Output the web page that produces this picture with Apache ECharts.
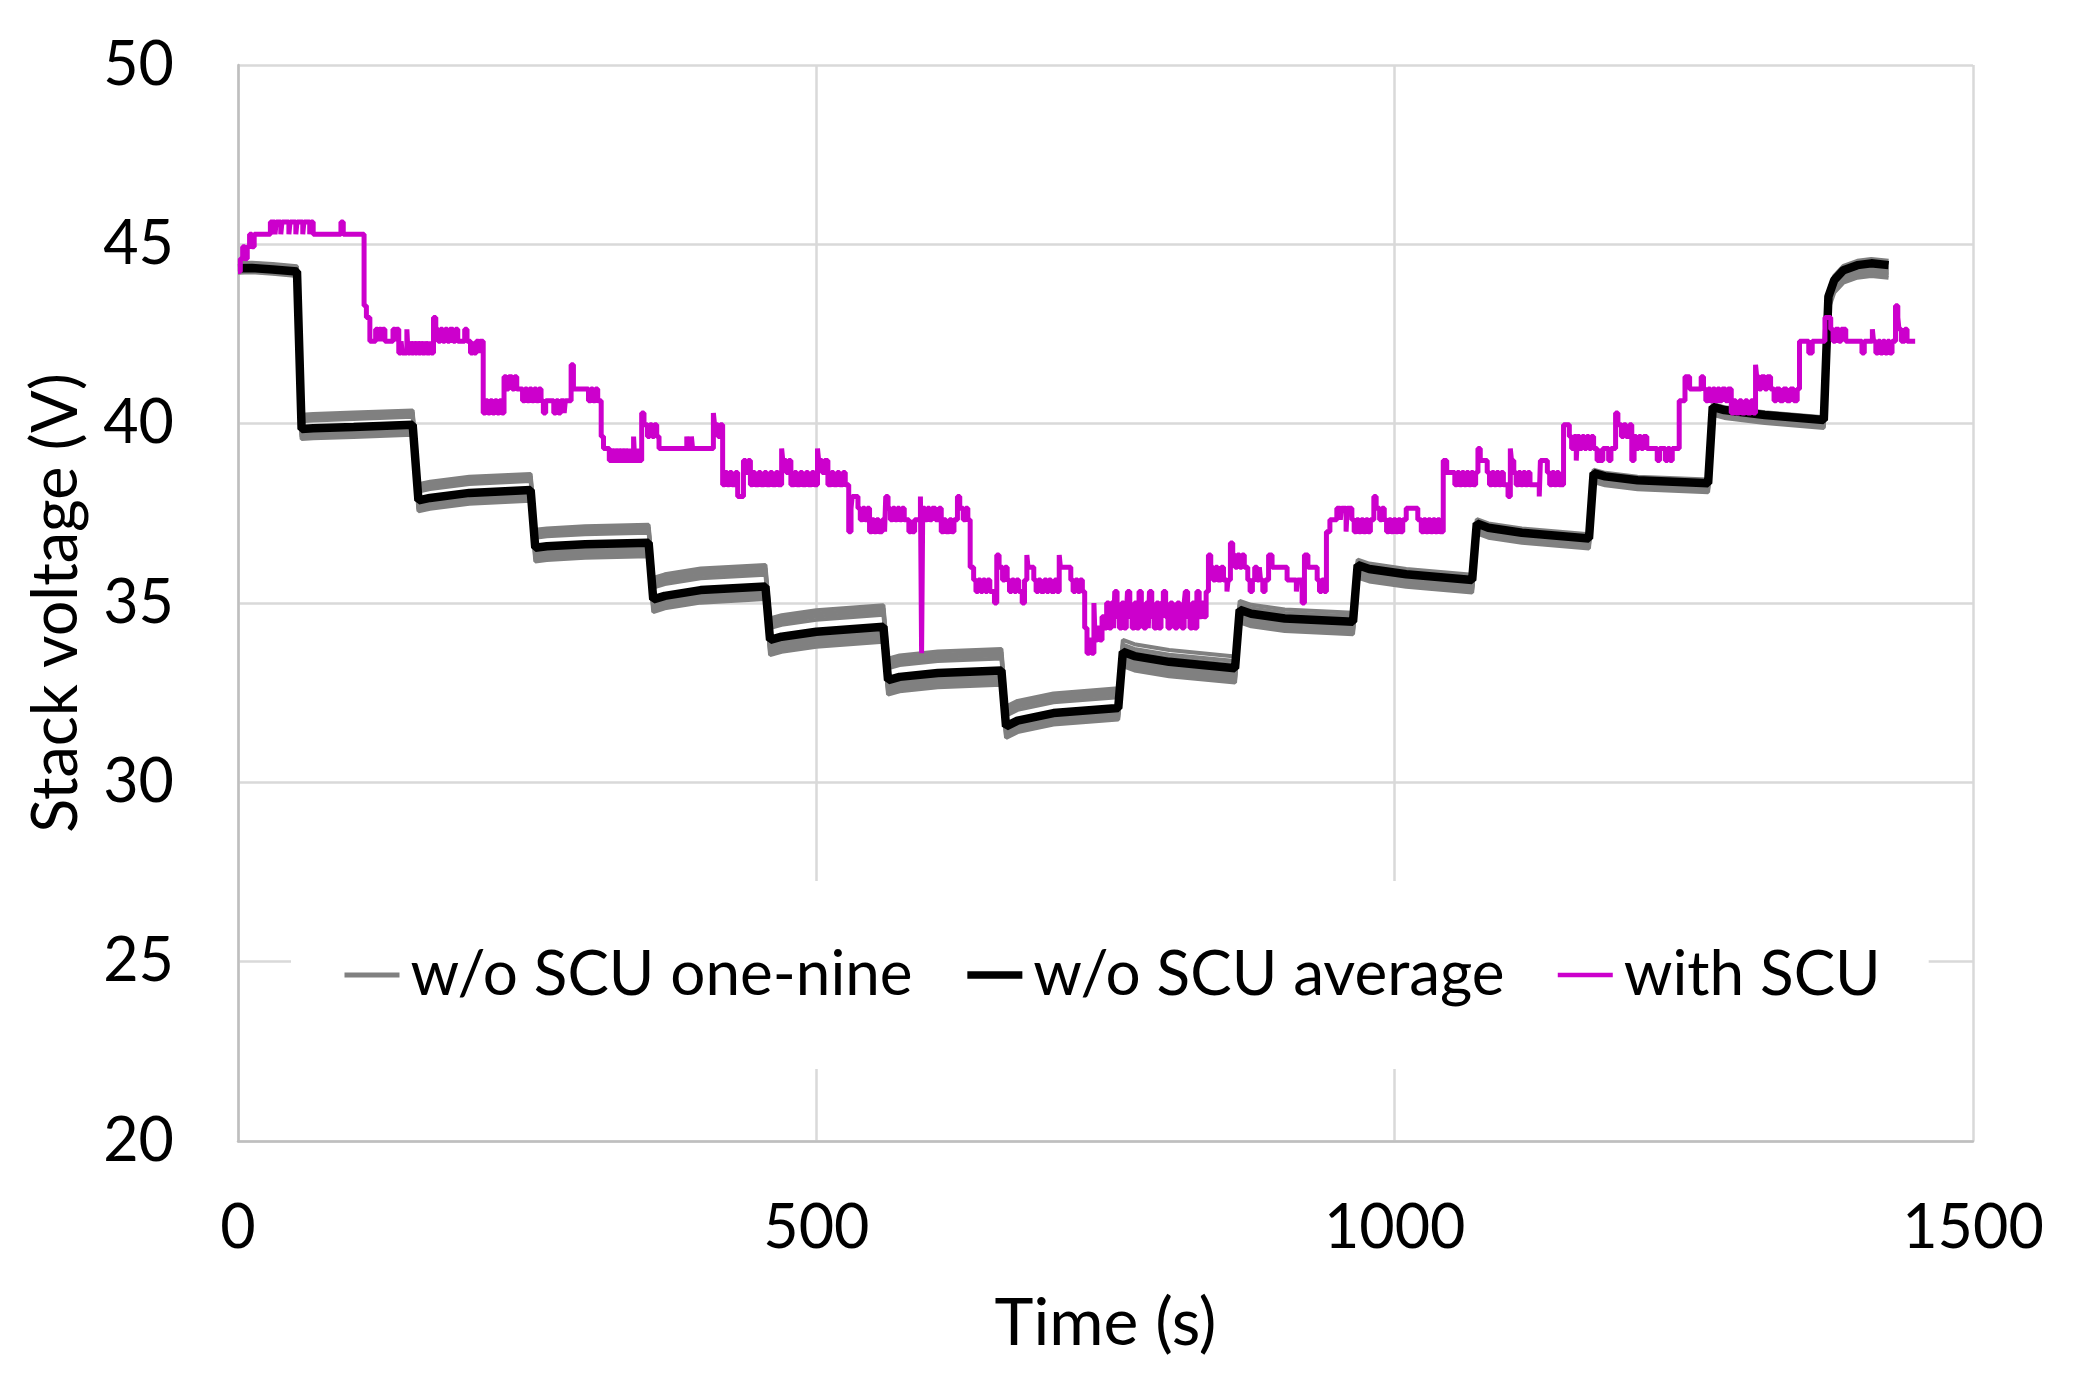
<!DOCTYPE html>
<html><head><meta charset="utf-8">
<script src="https://cdn.jsdelivr.net/npm/echarts@6/dist/echarts.min.js"></script>
<style>html,body{margin:0;padding:0;background:#fff}#c{width:2077px;height:1386px}</style>
</head><body><div id="c"></div>
<script>
// ---- tick layout ----
const xTicks = [0, 500, 1000, 1500];
const yTicks = [20, 25, 30, 35, 40, 45, 50];
const legendNames = ['w/o SCU one-nine', 'w/o SCU average', 'with SCU'];

// ---- time samples for the w/o SCU curves (s) ----
const tAvg = [0,12,30,51, 55,65,100,151, 156,166,200,253, 257,267,300,355, 359,369,400,456, 460,470,500,558, 562,572,605,660, 664,674,705,761, 765,775,805,862, 866,876,905,964, 968,978,1010,1067, 1071,1081,1110,1168, 1172,1182,1210,1271, 1275,1285,1320,1371, 1375,1380,1388,1400,1412,1427];

// ---- w/o SCU average (V) ----
const avgVolt = [44.33,44.34,44.30,44.24, 39.85,39.87,39.91,39.97, 37.86,37.93,38.07,38.15, 36.54,36.58,36.64,36.68, 35.10,35.20,35.36,35.46, 33.97,34.06,34.20,34.34, 32.85,32.94,33.05,33.12, 31.56,31.72,31.93,32.07, 33.64,33.52,33.36,33.18, 34.81,34.70,34.57,34.48, 36.06,35.95,35.80,35.64, 37.22,37.10,36.96,36.80, 38.62,38.53,38.42,38.34, 40.47,40.38,40.24,40.10, 43.54,44.00,44.28,44.42,44.47,44.42];

// ---- w/o SCU runs one..nine (V) ----
const cell1 = [44.48,44.49,44.45,44.39, 40.25,40.27,40.31,40.37, 38.31,38.38,38.52,38.60, 37.04,37.08,37.14,37.18, 35.70,35.80,35.96,36.06, 34.57,34.66,34.80,34.94, 33.45,33.54,33.65,33.72, 32.11,32.27,32.48,32.62, 33.97,33.85,33.69,33.51, 35.06,34.95,34.82,34.73, 36.21,36.10,35.95,35.79, 37.34,37.22,37.08,36.92, 38.72,38.63,38.52,38.44, 40.55,40.46,40.32,40.18, 43.66,44.12,44.40,44.54,44.59,44.54];
const cell2 = [44.46,44.47,44.43,44.37, 40.19,40.21,40.25,40.31, 38.24,38.31,38.45,38.53, 36.97,37.01,37.07,37.11, 35.61,35.71,35.87,35.97, 34.48,34.57,34.71,34.85, 33.36,33.45,33.56,33.63, 32.03,32.19,32.40,32.54, 33.84,33.72,33.56,33.38, 34.96,34.85,34.72,34.63, 36.15,36.04,35.89,35.73, 37.29,37.17,37.03,36.87, 38.68,38.59,38.48,38.40, 40.52,40.43,40.29,40.15, 43.61,44.07,44.35,44.49,44.54,44.49];
const cell3 = [44.44,44.45,44.41,44.35, 40.13,40.15,40.19,40.25, 38.18,38.25,38.39,38.47, 36.89,36.93,36.99,37.03, 35.52,35.62,35.78,35.88, 34.39,34.48,34.62,34.76, 33.27,33.36,33.47,33.54, 31.95,32.11,32.32,32.46, 33.74,33.62,33.46,33.28, 34.89,34.78,34.65,34.56, 36.11,36.00,35.85,35.69, 37.26,37.14,37.00,36.84, 38.65,38.56,38.45,38.37, 40.49,40.40,40.26,40.12, 43.58,44.04,44.32,44.46,44.51,44.46];
const cell4 = [44.41,44.42,44.38,44.32, 40.07,40.09,40.13,40.19, 38.11,38.18,38.32,38.40, 36.82,36.86,36.92,36.96, 35.43,35.53,35.69,35.79, 34.30,34.39,34.53,34.67, 33.18,33.27,33.38,33.45, 31.86,32.02,32.23,32.37, 33.56,33.44,33.28,33.10, 34.74,34.63,34.50,34.41, 35.99,35.88,35.73,35.57, 37.16,37.04,36.90,36.74, 38.57,38.48,38.37,38.29, 40.43,40.34,40.20,40.06, 43.47,43.93,44.21,44.35,44.40,44.35];
const cell5 = [44.31,44.32,44.28,44.22, 39.79,39.81,39.85,39.91, 37.80,37.87,38.01,38.09, 36.46,36.50,36.56,36.60, 35.03,35.13,35.29,35.39, 33.89,33.98,34.12,34.26, 32.77,32.86,32.97,33.04, 31.50,31.66,31.87,32.01, 33.50,33.38,33.22,33.04, 34.69,34.58,34.45,34.36, 35.94,35.83,35.68,35.52, 37.12,37.00,36.86,36.70, 38.53,38.44,38.33,38.25, 40.39,40.30,40.16,40.02, 43.42,43.88,44.16,44.30,44.35,44.30];
const cell6 = [44.28,44.29,44.25,44.19, 39.74,39.76,39.80,39.86, 37.74,37.81,37.95,38.03, 36.39,36.43,36.49,36.53, 34.96,35.06,35.22,35.32, 33.80,33.89,34.03,34.17, 32.69,32.78,32.89,32.96, 31.43,31.59,31.80,31.94, 33.44,33.32,33.16,32.98, 34.63,34.52,34.39,34.30, 35.88,35.77,35.62,35.46, 37.08,36.96,36.82,36.66, 38.49,38.40,38.29,38.21, 40.36,40.27,40.13,39.99, 43.36,43.82,44.10,44.24,44.29,44.24];
const cell7 = [44.26,44.27,44.23,44.17, 39.68,39.70,39.74,39.80, 37.68,37.75,37.89,37.97, 36.31,36.35,36.41,36.45, 34.89,34.99,35.15,35.25, 33.72,33.81,33.95,34.09, 32.61,32.70,32.81,32.88, 31.37,31.53,31.74,31.88, 33.38,33.26,33.10,32.92, 34.58,34.47,34.34,34.25, 35.83,35.72,35.57,35.41, 37.04,36.92,36.78,36.62, 38.46,38.37,38.26,38.18, 40.33,40.24,40.10,39.96, 43.31,43.77,44.05,44.19,44.24,44.19];
const cell8 = [44.23,44.24,44.20,44.14, 39.63,39.65,39.69,39.75, 37.62,37.69,37.83,37.91, 36.24,36.28,36.34,36.38, 34.82,34.92,35.08,35.18, 33.63,33.72,33.86,34.00, 32.53,32.62,32.73,32.80, 31.30,31.46,31.67,31.81, 33.32,33.20,33.04,32.86, 34.53,34.42,34.29,34.20, 35.78,35.67,35.52,35.36, 37.00,36.88,36.74,36.58, 38.42,38.33,38.22,38.14, 40.29,40.20,40.06,39.92, 43.26,43.72,44.00,44.14,44.19,44.14];
const cell9 = [44.21,44.22,44.18,44.12, 39.57,39.59,39.63,39.69, 37.56,37.63,37.77,37.85, 36.16,36.20,36.26,36.30, 34.75,34.85,35.01,35.11, 33.55,33.64,33.78,33.92, 32.45,32.54,32.65,32.72, 31.24,31.40,31.61,31.75, 33.24,33.12,32.96,32.78, 34.46,34.35,34.22,34.13, 35.71,35.60,35.45,35.29, 36.94,36.82,36.68,36.52, 38.37,38.28,38.17,38.09, 40.25,40.16,40.02,39.88, 43.19,43.65,43.93,44.07,44.12,44.07];

// ---- with SCU [time s, voltage V] (held until next sample) ----
const withScu = [
[0,44.24],[2,44.6],[4,44.93],[6,44.6],[8,44.93],[10,45.28],[12,44.93],[14,45.28],
[28,45.62],[32,45.28],[33,45.62],[37,45.28],[38,45.62],[44,45.28],[45,45.62],[50,45.28],[51,45.62],[56,45.28],[57,45.62],[62,45.28],[63,45.62],[65,45.28],
[89,45.62],[91,45.28],
[109,43.29],[111,42.96],[114,42.3],[119,42.63],[121,42.3],[122,42.63],[124,42.3],[125,42.63],[127,42.3],[134,42.63],[136,42.3],[137,42.63],[139,41.97],[141,42.3],[142,41.97],[146,42.63],[147,41.97],[149,42.3],[150,41.97],[152,42.3],[153,41.97],[155,42.3],[156,41.97],[158,42.3],[159,41.97],[162,42.3],[163,41.97],[166,42.3],[167,41.97],[169,42.96],[171,42.63],[173,42.3],[175,42.63],[177,42.3],[179,42.63],[181,42.3],[183,42.63],[186,42.3],[188,42.63],[190,42.3],[196,42.63],[198,42.3],[201,41.97],[203,42.3],[204,41.97],[206,42.3],[208,41.97],[209,42.3],
[212,40.3],[214,40.64],[216,40.3],[218,40.64],[220,40.3],[222,40.64],[224,40.3],[226,40.64],[228,40.3],[230,41.31],[232,40.97],[234,41.31],[237,40.97],[239,41.31],[241,40.97],[246,40.64],[248,40.97],[250,40.64],[252,40.97],[254,40.64],[256,40.97],[258,40.64],[260,40.97],[262,40.64],[264,40.3],[266,40.64],[273,40.3],[275,40.64],[277,40.3],[279,40.64],[282,40.3],[283,40.64],[288,41.64],[290,40.97],[303,40.64],[305,40.97],[307,40.64],[309,40.97],[311,40.64],
[314,39.64],[316,39.31],[321,38.97],[323,39.31],[324,38.97],[326,39.31],[327,38.97],[329,39.31],[330,38.97],[332,39.31],[333,38.97],[335,39.31],[336,38.97],[339,39.31],[340,38.97],[342,39.64],[343,38.97],[346,39.31],[347,38.97],[349,40.3],[351,39.97],[354,39.64],[356,39.97],[358,39.64],[360,39.97],[362,39.64],[364,39.31],[388,39.64],[389,39.31],[392,39.64],[393,39.31],[411,40.3],[412,39.97],[415,39.64],[417,39.97],
[419,38.3],[421,38.64],[423,38.3],[425,38.64],[427,38.3],[430,38.64],[432,37.97],[437,38.97],[439,38.64],[441,38.97],[443,38.3],[445,38.64],[447,38.3],[450,38.64],[452,38.3],[455,38.64],[457,38.3],[460,38.64],[462,38.3],[465,38.64],[467,38.3],[470,39.31],[471,38.97],[474,38.64],[476,38.97],[478,38.3],[481,38.64],[483,38.3],[486,38.64],[488,38.3],[491,38.64],[493,38.3],[496,38.64],[498,38.3],[501,39.31],[502,38.97],[505,38.64],[507,38.97],[510,38.3],[513,38.64],[515,38.3],[518,38.64],[520,38.3],[523,38.64],[525,38.3],
[528,36.99],[530,37.64],[531,37.97],[536,37.64],[538,37.32],[540,37.64],[542,37.32],[544,37.64],[546,36.99],[548,37.32],[550,36.99],[552,37.32],[554,36.99],[557,37.32],[559,36.99],[560,37.97],[562,37.64],[564,37.32],[566,37.64],[568,37.32],[570,37.64],[572,37.32],[574,37.64],[576,37.32],[580,36.99],[582,37.32],[583,36.99],[585,37.32],[590,37.97],[591,33.6],[592,37.64],[594,37.32],[596,37.64],[598,37.32],[600,37.64],[603,37.32],[606,37.64],[608,36.99],[610,37.32],[612,36.99],[615,37.32],[617,36.99],[619,37.32],[622,37.97],[624,37.64],[627,37.32],[629,37.64],[631,37.32],
[633,36.0],[636,35.64],[638,35.32],[640,35.64],[642,35.32],[644,35.64],[646,35.32],[648,35.64],[650,35.32],[654,35.0],[656,36.34],[658,36.0],[661,35.64],[663,36.0],[665,35.64],[667,35.32],[669,35.64],[671,35.32],[673,35.64],[675,35.32],[678,35.0],[680,35.64],[682,36.34],[683,36.0],[688,35.64],[690,35.32],[692,35.64],[694,35.32],[697,35.64],[699,35.32],[701,35.64],[703,35.32],[706,35.64],[708,35.32],[710,36.34],[711,36.0],[720,35.64],[722,35.32],[724,35.64],[726,35.32],[728,35.64],[730,35.32],
[732,34.3],[734,33.6],[736,33.97],[738,33.6],[740,35.0],[741,33.97],[743,34.3],[745,33.97],[747,34.62],[749,34.3],[751,35.0],[753,34.3],[755,35.0],[757,34.3],[758,35.32],[760,34.62],[762,34.3],[764,35.0],[766,34.3],[768,34.62],[769,35.32],[771,34.62],[773,34.3],[775,35.0],[777,34.3],[779,35.32],[781,34.62],[783,34.3],[785,35.0],[787,34.3],[788,35.32],[790,34.62],[792,34.3],[794,35.0],[796,34.3],[798,35.0],[800,35.32],[802,34.62],[804,34.3],[806,35.0],[808,34.62],[810,34.3],[812,35.0],[814,34.62],[816,34.3],[818,35.0],[819,35.32],[821,34.62],[823,34.3],[825,35.0],[827,34.3],[829,35.32],[831,34.62],[833,35.0],[835,34.62],[837,35.32],
[839,36.34],[841,36.0],[843,35.64],[845,36.0],[847,35.64],[850,36.0],[852,35.64],[855,35.32],[856,35.64],[858,36.67],[860,36.34],[862,36.0],[864,36.34],[866,36.0],[868,36.34],[870,36.0],[873,35.64],[875,35.32],[877,35.64],[879,36.0],[881,35.64],[883,36.0],[884,35.64],[886,35.32],[888,35.64],[891,36.34],[894,36.0],[907,35.64],[915,35.32],[916,35.64],[920,35.0],[922,36.34],[925,36.0],[933,35.64],[935,35.32],[937,35.64],[939,35.32],
[941,36.99],[944,37.32],[950,37.64],[953,37.32],[954,37.64],[958,36.99],[959,37.64],[963,37.32],[965,36.99],[967,37.32],[969,36.99],[971,37.32],[973,36.99],[975,37.32],[977,36.99],[979,37.32],[982,37.97],[984,37.64],[987,37.32],[989,37.64],[991,37.32],[993,36.99],[995,37.32],[997,36.99],[999,37.32],[1001,36.99],[1003,37.32],[1005,36.99],[1007,37.32],[1010,37.64],[1020,37.32],[1023,36.99],[1025,37.32],[1027,36.99],[1029,37.32],[1031,36.99],[1033,37.32],[1035,36.99],[1037,37.32],[1039,36.99],
[1042,38.97],[1045,38.64],[1052,38.3],[1054,38.64],[1056,38.3],[1058,38.64],[1060,38.3],[1062,38.64],[1064,38.3],[1066,38.64],[1068,38.3],[1070,38.64],[1072,39.31],[1074,38.97],[1080,38.64],[1082,38.3],[1084,38.64],[1086,38.3],[1088,38.64],[1090,38.3],[1092,38.64],[1094,38.3],[1098,37.97],[1100,39.31],[1101,38.97],[1103,38.64],[1105,38.3],[1107,38.64],[1109,38.3],[1111,38.64],[1113,38.3],[1115,38.64],[1117,38.3],[1125,37.97],[1126,38.97],[1132,38.64],[1134,38.3],[1136,38.64],[1138,38.3],[1140,38.64],[1142,38.3],
[1146,39.97],[1151,39.64],[1153,39.31],[1155,39.64],[1157,38.97],[1158,39.64],[1160,39.31],[1162,39.64],[1164,39.31],[1166,39.64],[1168,39.31],[1170,39.64],[1172,39.31],[1175,38.97],[1177,39.31],[1178,38.97],[1180,39.31],[1185,38.97],[1187,39.31],[1191,40.3],[1193,39.97],[1196,39.64],[1198,39.97],[1200,39.64],[1203,39.97],[1205,38.97],[1207,39.64],[1209,39.31],[1211,39.64],[1213,39.31],[1215,39.64],[1218,39.31],[1227,38.97],[1229,39.31],[1234,38.97],[1236,39.31],[1238,38.97],[1240,39.31],
[1246,40.64],[1251,41.31],[1255,40.97],[1265,41.31],[1267,40.97],[1269,40.64],[1271,40.97],[1273,40.64],[1275,40.97],[1277,40.64],[1279,40.97],[1281,40.64],[1283,40.97],[1286,40.64],[1288,40.97],[1291,40.3],[1293,40.64],[1295,40.3],[1298,40.64],[1300,40.3],[1303,40.64],[1305,40.3],[1308,40.64],[1310,40.3],[1312,41.64],[1313,41.31],[1315,40.97],[1317,41.31],[1320,40.97],[1322,41.31],[1325,40.97],[1328,40.64],[1330,40.97],[1333,40.64],[1336,40.97],[1339,40.64],[1342,40.97],[1345,40.64],[1348,40.97],
[1350,42.3],[1358,41.97],[1361,42.3],[1372,42.96],[1377,42.63],[1379,42.3],[1381,42.63],[1384,42.3],[1386,42.63],[1390,42.3],[1404,41.97],[1406,42.3],[1413,42.63],[1414,42.3],[1416,41.97],[1418,42.3],[1420,41.97],[1422,42.3],[1424,41.97],[1426,42.3],[1428,41.97],[1430,42.3],[1433,43.29],[1435,42.96],[1436,42.63],[1438,42.3],[1441,42.63],[1443,42.3],[1450,42.3]
];

// ---- build chart ----
const FONT = 'Lato';
const COLORS = ['#808080', '#000000', '#cc00cc'];
const cells = [cell1, cell2, cell3, cell4, cell5, cell6, cell7, cell8, cell9];
const pair = (ts, vs) => ts.map((t, i) => [t, vs[i]]);
const series = [];
cells.forEach(c => series.push({
  name: legendNames[0], type: 'line', data: pair(tAvg, c), symbol: 'none',
  lineStyle: { color: COLORS[0], width: 4 }, itemStyle: { color: COLORS[0] }, z: 2, silent: true
}));
series.push({
  name: legendNames[1], type: 'line', data: pair(tAvg, avgVolt), symbol: 'none',
  lineStyle: { color: COLORS[1], width: 8.5 }, itemStyle: { color: COLORS[1] }, z: 3, silent: true
});
series.push({
  name: legendNames[2], type: 'line', data: withScu, step: 'end', symbol: 'none',
  lineStyle: { color: COLORS[2], width: 5 }, itemStyle: { color: COLORS[2] }, z: 4, silent: true
});

const legendIconWidths = [5, 7.5, 4.5];
const chart = echarts.init(document.getElementById('c'), null, { renderer: 'canvas' });
chart.setOption({
  animation: false,
  backgroundColor: '#ffffff',
  textStyle: { fontFamily: FONT },
  grid: { left: 238, right: 104, top: 65, bottom: 245, containLabel: false, outerBoundsMode: 'none' },
  legend: {
    data: legendNames.map((n, i) => ({
      name: n,
      lineStyle: { width: legendIconWidths[i], color: COLORS[i] },
      itemStyle: { opacity: 0 }
    })),
    left: 291, top: 881,
    padding: [63, 48, 63, 51],
    backgroundColor: '#ffffff',
    itemWidth: 55, itemHeight: 20, itemGap: 51,
    itemStyle: { opacity: 0 },
    textStyle: { fontSize: 62, color: '#000', fontFamily: FONT, padding: [0, 0, 0, 6] },
    selectedMode: false
  },
  xAxis: {
    type: 'value', min: xTicks[0], max: xTicks[xTicks.length - 1], interval: xTicks[1] - xTicks[0],
    name: 'Time (s)', nameLocation: 'middle', nameGap: 150,
    nameTextStyle: { fontSize: 66, color: '#000', fontFamily: FONT },
    axisLine: { show: true, lineStyle: { color: '#bfbfbf', width: 2.5 } },
    axisTick: { show: false },
    axisLabel: { fontSize: 61, color: '#000', fontFamily: FONT, margin: 57, formatter: v => String(v) },
    splitLine: { show: true, lineStyle: { color: '#d9d9d9', width: 2.5 } }
  },
  yAxis: {
    type: 'value', min: yTicks[0], max: yTicks[yTicks.length - 1], interval: yTicks[1] - yTicks[0],
    name: 'Stack voltage (V)', nameLocation: 'middle', nameGap: 150, nameRotate: 90,
    nameTextStyle: { fontSize: 63, color: '#000', fontFamily: FONT },
    axisLine: { show: true, lineStyle: { color: '#bfbfbf', width: 2.5 } },
    axisTick: { show: false },
    axisLabel: { fontSize: 61, color: '#000', fontFamily: FONT, margin: 64, formatter: v => String(v) },
    splitLine: { show: true, lineStyle: { color: '#d9d9d9', width: 2.5 } }
  },
  series: series
});
</script></body></html>
